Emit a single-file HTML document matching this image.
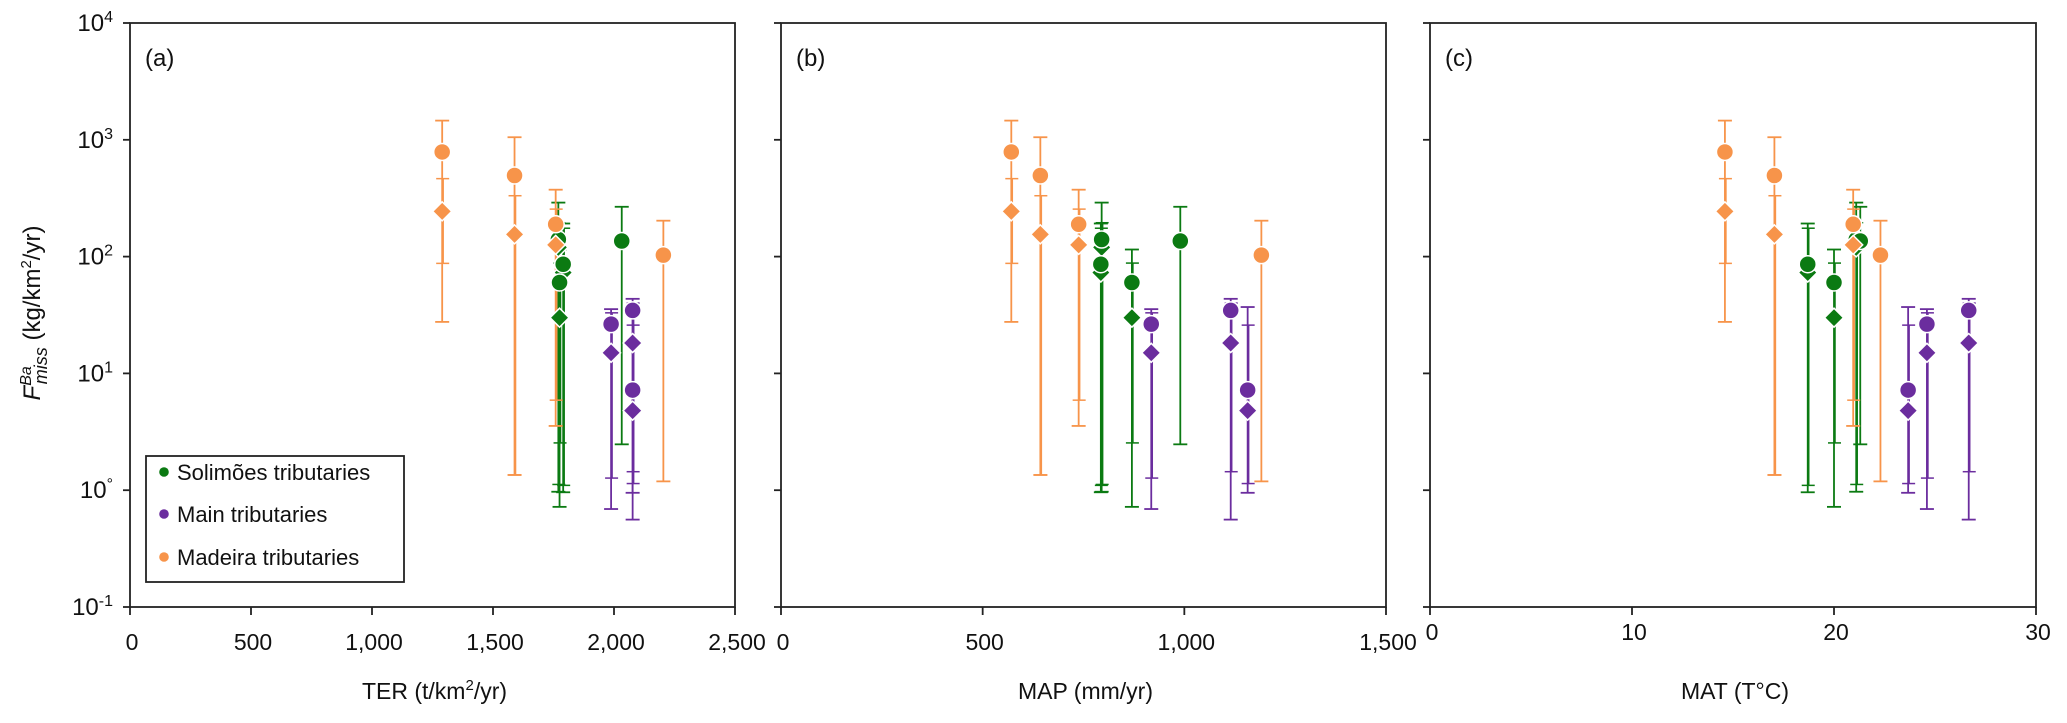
<!DOCTYPE html>
<html><head><meta charset="utf-8"><style>
html,body{margin:0;padding:0;background:#fff;}
svg{display:block;font-family:"Liberation Sans",Arial,sans-serif;}
</style></head><body>
<svg id="chart" width="2067" height="723" viewBox="0 0 2067 723" xmlns="http://www.w3.org/2000/svg"></svg>
<script>
// ---- data ----
const groups = ["madeira","madeira","madeira","madeira","solimoes","solimoes","solimoes","solimoes","main","main","main"];
const terValues = [1290,1589,1759,2204,1770,1790,1775,2032,1988,2077,2077];
const mapValues = [571,643,738,1191,795,793,870,990,918,1115,1157];
const matValues = [14.6,17.05,20.95,22.3,21.1,18.7,20.0,21.3,24.6,26.67,23.67];
const circleValues = [787,495,189,103,140,86,60,136,26.4,34.6,7.2];
const diamondValues = [244,155,126,null,120,73,30,null,15,18.2,4.8];
const circleErrLow = [27.6,1.35,3.55,1.19,0.97,0.96,0.72,2.47,0.69,0.56,0.95];
const circleErrHigh = [1460,1052,374,203,290,192,115,267,35.5,43.5,37];
const diamondErrLow = [87.5,1.35,5.9,null,1.12,1.1,2.54,null,1.27,1.44,1.14];
const diamondErrHigh = [465,332,255,null,195,175,88,null,33,40,25.9];
const yTickExp = [4,3,2,1,0,-1];
const terTicks = [0,500,1000,1500,2000,2500];
const terTickLabels = ["0","500","1,000","1,500","2,000","2,500"];
const mapTicks = [0,500,1000,1500];
const mapTickLabels = ["0","500","1,000","1,500"];
const matTicks = [0,10,20,30];
const matTickLabels = ["0","10","20","30"];

const colors = {solimoes:"#0b7a12", main:"#6b2d9e", madeira:"#f7944a"};
const NS = "http://www.w3.org/2000/svg";
const svg = document.getElementById("chart");
function mk(tag, attrs, parent){
  const e = document.createElementNS(NS, tag);
  for (const k in attrs) e.setAttribute(k, attrs[k]);
  (parent||svg).appendChild(e);
  return e;
}
const TOP = 23, BOT = 607;
function yScale(v){ return TOP + (4 - Math.log10(v)) * (BOT - TOP) / 5; }

const panels = [
  {id:"a", x0:130, x1:735, xmax:2500, xs:terValues, ticks:terTicks, labels:terTickLabels, title:"TER (t/km²/yr)", titleHtml:["TER (t/km","2","/yr)"], lblY:650, yLabels:true},
  {id:"b", x0:781, x1:1386, xmax:1500, xs:mapValues, ticks:mapTicks, labels:mapTickLabels, title:"MAP (mm/yr)", lblY:650, yLabels:false},
  {id:"c", x0:1430, x1:2036, xmax:30, xs:matValues, ticks:matTicks, labels:matTickLabels, title:"MAT (T°C)", lblY:640, yLabels:false}
];

panels.forEach(p => {
  const g = mk("g", {});
  
  
  const xs = v => p.x0 + v / p.xmax * (p.x1 - p.x0);
  const fr = mk("rect", {x:p.x0, y:TOP, width:p.x1-p.x0, height:BOT-TOP, fill:"none", stroke:"#222", "stroke-width":1.8}, g);
  
  
  yTickExp.forEach(e => {
    const y = yScale(Math.pow(10, e));
    mk("line", {x1:p.x0-7, x2:p.x0, y1:y, y2:y, stroke:"#222", "stroke-width":1.8}, g);
    if (p.yLabels) {
      const t = mk("text", {x:p.x0-17, y:y+8, "text-anchor":"end", "font-size":24, fill:"#111"}, g);
      
      
      const a = document.createElementNS(NS, "tspan"); a.textContent = "10"; t.appendChild(a);
      const b = document.createElementNS(NS, "tspan"); b.setAttribute("dy", -9); b.setAttribute("font-size", 16);
      b.textContent = e === 0 ? "°" : String(e); t.appendChild(b);
    }
  });
  p.ticks.forEach((tv, i) => {
    const x = xs(tv);
    mk("line", {x1:x, x2:x, y1:BOT, y2:BOT+8, stroke:"#222", "stroke-width":1.8}, g);
    const t = mk("text", {x:x+2, y:p.lblY, "text-anchor":"middle", "font-size":23, fill:"#111"}, g);
    
    
    t.textContent = p.labels[i];
  });
  const xt = mk("text", {x:(p.x0+p.x1)/2 + 2, y:699, "text-anchor":"middle", "font-size":23, fill:"#111"}, g);
  
  
  if (p.titleHtml) {
    const a = document.createElementNS(NS,"tspan"); a.textContent = p.titleHtml[0]; xt.appendChild(a);
    const b = document.createElementNS(NS,"tspan"); b.setAttribute("dy",-9); b.setAttribute("font-size",15); b.textContent = p.titleHtml[1]; xt.appendChild(b);
    const c = document.createElementNS(NS,"tspan"); c.setAttribute("dy",9); c.textContent = p.titleHtml[2]; xt.appendChild(c);
  } else xt.textContent = p.title;
  const pl = mk("text", {x:p.x0+15, y:66, "font-size":24, fill:"#111"}, g);
  
  
  pl.textContent = "(" + p.id + ")";

  const order = [4,5,6,7,8,9,10,0,1,2,3];
  order.forEach(i => {
    const col = colors[groups[i]];
    const x = xs(p.xs[i]);
    const eg = mk("g", {}, g);
    
    
    const lo = yScale(circleErrLow[i]), hi = yScale(circleErrHigh[i]);
    mk("line", {x1:x, x2:x, y1:hi, y2:lo, stroke:col, "stroke-width":1.8}, eg);
    mk("line", {x1:x-7, x2:x+7, y1:hi, y2:hi, stroke:col, "stroke-width":1.8}, eg);
    mk("line", {x1:x-7, x2:x+7, y1:lo, y2:lo, stroke:col, "stroke-width":1.8}, eg);
    if (diamondErrLow[i] !== null) {
      const dl = yScale(diamondErrLow[i]), dh = yScale(diamondErrHigh[i]);
      mk("line", {x1:x+1, x2:x+1, y1:dh, y2:dl, stroke:col, "stroke-width":1.5}, eg);
      mk("line", {x1:x-6, x2:x+7, y1:dh, y2:dh, stroke:col, "stroke-width":1.5}, eg);
      mk("line", {x1:x-6, x2:x+7, y1:dl, y2:dl, stroke:col, "stroke-width":1.5}, eg);
    }
  });
  order.forEach(i => {
    const col = colors[groups[i]];
    const x = xs(p.xs[i]);
    if (diamondValues[i] !== null) {
      const y = yScale(diamondValues[i]);
      const d = mk("polygon", {points:`${x},${y-9.5} ${x+9.5},${y} ${x},${y+9.5} ${x-9.5},${y}`, fill:col, stroke:"#fff", "stroke-width":1.5}, g);
      
      
    }
    const c = mk("circle", {cx:x, cy:yScale(circleValues[i]), r:8.5, fill:col, stroke:"#fff", "stroke-width":1.5}, g);
    
    
  });
});

const yt = mk("text", {transform:"translate(40,313) rotate(-90)", "text-anchor":"middle", "font-size":24, fill:"#111"});


(function(){
  const parts = [["F",{"font-style":"italic"}],["Ba",{"font-style":"italic","font-size":16,dy:-9}],["miss",{"font-style":"italic","font-size":18,dy:16,dx:-18}],[" (kg/km",{dy:-7}],["2",{"font-size":15,dy:-9}],["/yr)",{dy:9}]];
  parts.forEach(([t,a]) => { const s = document.createElementNS(NS,"tspan"); for (const k in a) s.setAttribute(k,a[k]); s.textContent=t; yt.appendChild(s); });
})();

const lg = mk("g", {});


mk("rect", {x:146, y:456, width:258, height:126, fill:"#fff", stroke:"#222", "stroke-width":1.8}, lg);
const legendNames = ["Solimões tributaries","Main tributaries","Madeira tributaries"];
const legendKeys = ["solimoes","main","madeira"];
const legendY = [472,514,557];
legendNames.forEach((n,i) => {
  const e = mk("g", {}, lg);
  
  
  mk("circle", {cx:164, cy:legendY[i], r:4.8, fill:colors[legendKeys[i]]}, e);
  const t = mk("text", {x:177, y:legendY[i]+8, "font-size":22, fill:"#111"}, e);
  t.textContent = n;
});
</script>
</body></html>
